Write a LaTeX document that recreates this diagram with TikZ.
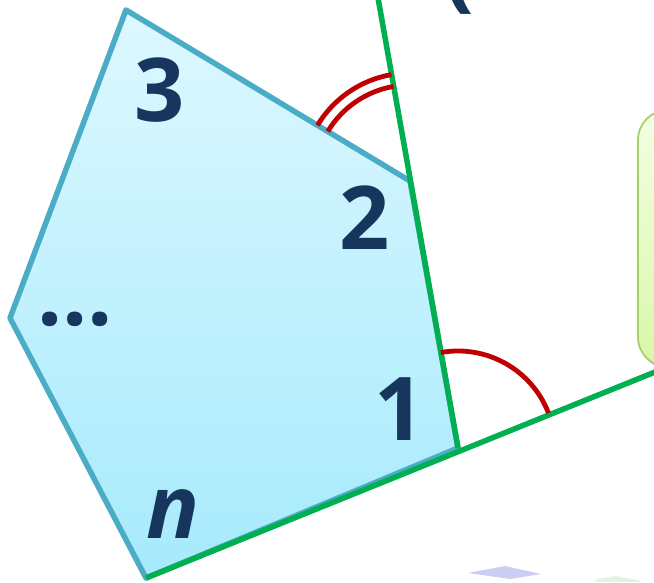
\documentclass[tikz,border=0pt]{standalone}
\usepackage{fontspec}
\setmainfont{Open Sans}
\usetikzlibrary{angles,shadows}
\definecolor{navy}{HTML}{17365D}
\definecolor{edge}{HTML}{4BACC6}
\definecolor{grn}{HTML}{00B050}
\definecolor{crim}{HTML}{C00000}
\definecolor{polytop}{HTML}{DDF8FF}
\definecolor{polybot}{HTML}{A6EAFC}
\definecolor{notetop}{HTML}{F4FFE4}
\definecolor{notebot}{HTML}{D8F7A8}
\definecolor{noteedge}{HTML}{A9CF6A}
\definecolor{lav}{HTML}{A9ACEB}
\definecolor{mint}{HTML}{CFEBD0}
\tikzset{
  poly/.style ={draw=edge,line width=5.5pt,line join=round,
                top color=polytop,bottom color=polybot},
  ext/.style  ={draw=grn,line width=5.5pt},
  ang/.style  ={draw=crim,line width=4.8pt},
  num/.style  ={text=navy,inner sep=0pt,anchor=base,
                font=\fontsize{88}{88}\selectfont\bfseries},
  note/.style ={draw=noteedge,line width=1.8pt,rounded corners=30pt,
                top color=notetop,bottom color=notebot,
                drop shadow={shadow xshift=2pt,shadow yshift=-3pt,opacity=.25}},
  ghost/.style={draw=none,opacity=.6},
}

\begin{document}
\begin{tikzpicture}[x=1pt,y=1pt]
  \useasboundingbox (0,0) rectangle (654,582);
  \clip (0,0) rectangle (654,582);

  % --- corners of the polygon ---
  \coordinate (v1) at (458,134);
  \coordinate (v2) at (410,401);
  \coordinate (v3) at (126,572);
  \coordinate (vd) at (10,264);
  \coordinate (vn) at (146,4);
  % free ends of the extended sides
  \coordinate (g1) at (378,584);
  \coordinate (g2) at (660,212);

  \path[poly] (v1) -- (v2) -- (v3) -- (vd) -- (vn) -- cycle;

  % extended sides
  \draw[ext] (g1) -- (v1);
  \draw[ext] (vn) -- (g2);

  % exterior angles
  \pic[ang,angle radius=97pt] {angle=g2--v1--v2};
  \pic[ang,angle radius=96pt] {angle=g1--v2--v3};
  \pic[ang,angle radius=108pt] {angle=g1--v2--v3};

  % corner labels
  \node[num] (l3) at (160,460) {3};
  \node[num] (l2) at (365,332) {2};
  \node[num] (l1) at (400,142) {1};
  \node[num] (ln) at (173,44) {\itshape n};
  \node[num] (ld) at (75,256) {…};

  % cut-off text at the top
  \node[num,anchor=south west] (top) at (444,567) {(};

  % note box, mostly off the page
  \path[note] (638,215) rectangle (720,472);

  % faint marks at the bottom
  \fill[ghost,fill=lav] (468,9) -- (505,16) -- (541,8) -- (510,3) -- cycle;
  \fill[ghost,fill=mint] (594,0) -- (597,3) -- (616,6) -- (638,2) -- (640,0) -- cycle;
\end{tikzpicture}
\end{document}
